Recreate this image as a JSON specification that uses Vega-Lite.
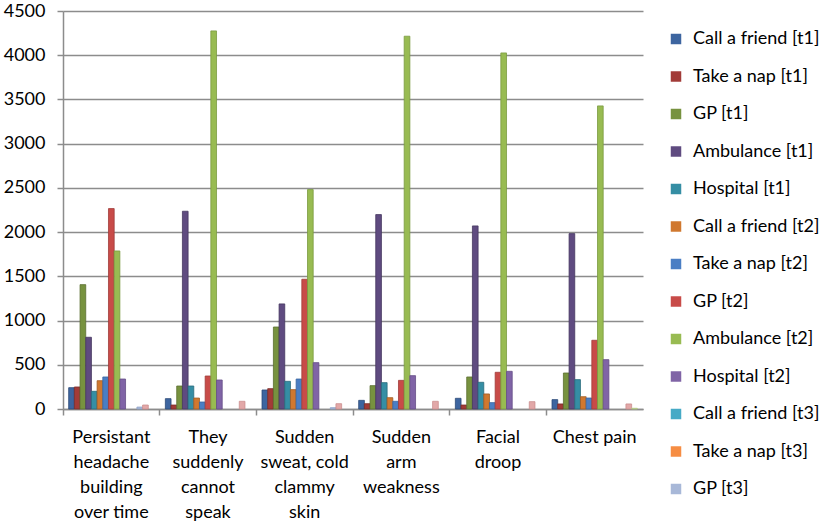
{
  "$schema": "https://vega.github.io/schema/vega-lite/v6.json",
  "autosize": "none",
  "width": 580,
  "height": 398,
  "padding": {"left": 63, "top": 11, "right": 186, "bottom": 116},
  "background": "white",
  "config": {
    "view": {"stroke": null},
    "font": "Lato",
    "axis": {"labelFont": "Lato", "labelColor": "black", "domainColor": "#8c8c8c", "tickColor": "#8c8c8c", "gridColor": "#8c8c8c"},
    "legend": {"labelFont": "Lato"}
  },
  "data": {
    "values": [
      {"symptom": "Persistant headache building over time", "series": "Call a friend [t1]", "count": 241},
      {"symptom": "Persistant headache building over time", "series": "Take a nap [t1]", "count": 249},
      {"symptom": "Persistant headache building over time", "series": "GP [t1]", "count": 1406},
      {"symptom": "Persistant headache building over time", "series": "Ambulance [t1]", "count": 811},
      {"symptom": "Persistant headache building over time", "series": "Hospital [t1]", "count": 200},
      {"symptom": "Persistant headache building over time", "series": "Call a friend [t2]", "count": 320},
      {"symptom": "Persistant headache building over time", "series": "Take a nap [t2]", "count": 362},
      {"symptom": "Persistant headache building over time", "series": "GP [t2]", "count": 2266},
      {"symptom": "Persistant headache building over time", "series": "Ambulance [t2]", "count": 1787},
      {"symptom": "Persistant headache building over time", "series": "Hospital [t2]", "count": 339},
      {"symptom": "Persistant headache building over time", "series": "GP [t3]", "count": 22},
      {"symptom": "Persistant headache building over time", "series": "Ambulance [t3]", "count": 45},

      {"symptom": "They suddenly cannot speak", "series": "Call a friend [t1]", "count": 117},
      {"symptom": "They suddenly cannot speak", "series": "Take a nap [t1]", "count": 45},
      {"symptom": "They suddenly cannot speak", "series": "GP [t1]", "count": 260},
      {"symptom": "They suddenly cannot speak", "series": "Ambulance [t1]", "count": 2236},
      {"symptom": "They suddenly cannot speak", "series": "Hospital [t1]", "count": 260},
      {"symptom": "They suddenly cannot speak", "series": "Call a friend [t2]", "count": 124},
      {"symptom": "They suddenly cannot speak", "series": "Take a nap [t2]", "count": 79},
      {"symptom": "They suddenly cannot speak", "series": "GP [t2]", "count": 373},
      {"symptom": "They suddenly cannot speak", "series": "Ambulance [t2]", "count": 4275},
      {"symptom": "They suddenly cannot speak", "series": "Hospital [t2]", "count": 328},
      {"symptom": "They suddenly cannot speak", "series": "Ambulance [t3]", "count": 87},

      {"symptom": "Sudden sweat, cold clammy skin", "series": "Call a friend [t1]", "count": 215},
      {"symptom": "Sudden sweat, cold clammy skin", "series": "Take a nap [t1]", "count": 230},
      {"symptom": "Sudden sweat, cold clammy skin", "series": "GP [t1]", "count": 927},
      {"symptom": "Sudden sweat, cold clammy skin", "series": "Ambulance [t1]", "count": 1188},
      {"symptom": "Sudden sweat, cold clammy skin", "series": "Hospital [t1]", "count": 313},
      {"symptom": "Sudden sweat, cold clammy skin", "series": "Call a friend [t2]", "count": 219},
      {"symptom": "Sudden sweat, cold clammy skin", "series": "Take a nap [t2]", "count": 339},
      {"symptom": "Sudden sweat, cold clammy skin", "series": "GP [t2]", "count": 1467},
      {"symptom": "Sudden sweat, cold clammy skin", "series": "Ambulance [t2]", "count": 2481},
      {"symptom": "Sudden sweat, cold clammy skin", "series": "Hospital [t2]", "count": 524},
      {"symptom": "Sudden sweat, cold clammy skin", "series": "GP [t3]", "count": 15},
      {"symptom": "Sudden sweat, cold clammy skin", "series": "Ambulance [t3]", "count": 60},

      {"symptom": "Sudden arm weakness", "series": "Call a friend [t1]", "count": 98},
      {"symptom": "Sudden arm weakness", "series": "Take a nap [t1]", "count": 60},
      {"symptom": "Sudden arm weakness", "series": "GP [t1]", "count": 264},
      {"symptom": "Sudden arm weakness", "series": "Ambulance [t1]", "count": 2198},
      {"symptom": "Sudden arm weakness", "series": "Hospital [t1]", "count": 298},
      {"symptom": "Sudden arm weakness", "series": "Call a friend [t2]", "count": 128},
      {"symptom": "Sudden arm weakness", "series": "Take a nap [t2]", "count": 87},
      {"symptom": "Sudden arm weakness", "series": "GP [t2]", "count": 324},
      {"symptom": "Sudden arm weakness", "series": "Ambulance [t2]", "count": 4215},
      {"symptom": "Sudden arm weakness", "series": "Hospital [t2]", "count": 377},
      {"symptom": "Sudden arm weakness", "series": "Ambulance [t3]", "count": 87},

      {"symptom": "Facial droop", "series": "Call a friend [t1]", "count": 121},
      {"symptom": "Facial droop", "series": "Take a nap [t1]", "count": 45},
      {"symptom": "Facial droop", "series": "GP [t1]", "count": 362},
      {"symptom": "Facial droop", "series": "Ambulance [t1]", "count": 2070},
      {"symptom": "Facial droop", "series": "Hospital [t1]", "count": 302},
      {"symptom": "Facial droop", "series": "Call a friend [t2]", "count": 170},
      {"symptom": "Facial droop", "series": "Take a nap [t2]", "count": 72},
      {"symptom": "Facial droop", "series": "GP [t2]", "count": 415},
      {"symptom": "Facial droop", "series": "Ambulance [t2]", "count": 4026},
      {"symptom": "Facial droop", "series": "Hospital [t2]", "count": 426},
      {"symptom": "Facial droop", "series": "Ambulance [t3]", "count": 83},

      {"symptom": "Chest pain", "series": "Call a friend [t1]", "count": 106},
      {"symptom": "Chest pain", "series": "Take a nap [t1]", "count": 57},
      {"symptom": "Chest pain", "series": "GP [t1]", "count": 407},
      {"symptom": "Chest pain", "series": "Ambulance [t1]", "count": 1983},
      {"symptom": "Chest pain", "series": "Hospital [t1]", "count": 332},
      {"symptom": "Chest pain", "series": "Call a friend [t2]", "count": 139},
      {"symptom": "Chest pain", "series": "Take a nap [t2]", "count": 124},
      {"symptom": "Chest pain", "series": "GP [t2]", "count": 777},
      {"symptom": "Chest pain", "series": "Ambulance [t2]", "count": 3427},
      {"symptom": "Chest pain", "series": "Hospital [t2]", "count": 558},
      {"symptom": "Chest pain", "series": "Ambulance [t3]", "count": 57},
      {"symptom": "Chest pain", "series": "Hospital [t3]", "count": 8}
    ]
  },
  "mark": {"type": "bar", "strokeWidth": 0.8},
  "encoding": {
    "x": {
      "field": "symptom",
      "type": "nominal",
      "sort": null,
      "title": null,
      "scale": {"paddingInner": 0, "paddingOuter": 0},
      "axis": {
        "bandPosition": 0,
        "labelAngle": 0,
        "labelFontSize": 18,
        "labelLineHeight": 25,
        "labelBaseline": "top",
        "labelPadding": 13,
        "tickSize": 6,
        "tickWidth": 1.5,
        "domainWidth": 1.5,
        "labelExpr": "datum.value == 'Persistant headache building over time' ? ['Persistant', 'headache', 'building', 'over time'] : datum.value == 'They suddenly cannot speak' ? ['They', 'suddenly', 'cannot', 'speak'] : datum.value == 'Sudden sweat, cold clammy skin' ? ['Sudden', 'sweat, cold', 'clammy', 'skin'] : datum.value == 'Sudden arm weakness' ? ['Sudden', 'arm', 'weakness'] : datum.value == 'Facial droop' ? ['Facial', 'droop'] : datum.value"
      }
    },
    "xOffset": {
      "field": "series",
      "type": "nominal",
      "scale": {
        "domain": ["Call a friend [t1]", "Take a nap [t1]", "GP [t1]", "Ambulance [t1]", "Hospital [t1]", "Call a friend [t2]", "Take a nap [t2]", "GP [t2]", "Ambulance [t2]", "Hospital [t2]", "Call a friend [t3]", "Take a nap [t3]", "GP [t3]", "Ambulance [t3]", "Hospital [t3]"],
        "paddingInner": 0,
        "paddingOuter": 1.4
      }
    },
    "y": {
      "field": "count",
      "type": "quantitative",
      "title": null,
      "scale": {"domain": [0, 4500], "nice": false},
      "axis": {
        "values": [0, 500, 1000, 1500, 2000, 2500, 3000, 3500, 4000, 4500],
        "format": "d",
        "labelFontSize": 18,
        "labelPadding": 12,
        "tickSize": 6,
        "tickWidth": 1.5,
        "gridWidth": 1.5,
        "domainWidth": 1.5
      }
    },
    "color": {
      "field": "series",
      "type": "nominal",
      "scale": {
        "domain": ["Call a friend [t1]", "Take a nap [t1]", "GP [t1]", "Ambulance [t1]", "Hospital [t1]", "Call a friend [t2]", "Take a nap [t2]", "GP [t2]", "Ambulance [t2]", "Hospital [t2]", "Call a friend [t3]", "Take a nap [t3]", "GP [t3]", "Ambulance [t3]", "Hospital [t3]"],
        "range": ["#3D65A0", "#A23B38", "#77923F", "#5F4B80", "#358EA4", "#D0782F", "#4A7EC4", "#C84B48", "#98BB52", "#8064A6", "#46AAC6", "#F68D43", "#A8B8D8", "#E2A8A8", "#C9DDA0"]
      },
      "legend": {
        "title": null,
        "values": ["Call a friend [t1]", "Take a nap [t1]", "GP [t1]", "Ambulance [t1]", "Hospital [t1]", "Call a friend [t2]", "Take a nap [t2]", "GP [t2]", "Ambulance [t2]", "Hospital [t2]", "Call a friend [t3]", "Take a nap [t3]", "GP [t3]"],
        "orient": "none",
        "legendX": 604,
        "legendY": 19,
        "symbolType": "square",
        "symbolSize": 110,
        "symbolStrokeWidth": 0,
        "labelFontSize": 18,
        "labelColor": "black",
        "labelOffset": 8,
        "rowPadding": 19.5
      }
    },
    "stroke": {
      "field": "series",
      "type": "nominal",
      "scale": {
        "domain": ["Call a friend [t1]", "Take a nap [t1]", "GP [t1]", "Ambulance [t1]", "Hospital [t1]", "Call a friend [t2]", "Take a nap [t2]", "GP [t2]", "Ambulance [t2]", "Hospital [t2]", "Call a friend [t3]", "Take a nap [t3]", "GP [t3]", "Ambulance [t3]", "Hospital [t3]"],
        "range": ["#2C4A77", "#7A2C2A", "#5A6E30", "#453760", "#286B7B", "#A05C24", "#3A64A0", "#A03C3A", "#7A9A40", "#654E86", "#3A8CA4", "#D07030", "#8EA2C8", "#CC8E8E", "#B0C880"]
      },
      "legend": null
    }
  }
}
